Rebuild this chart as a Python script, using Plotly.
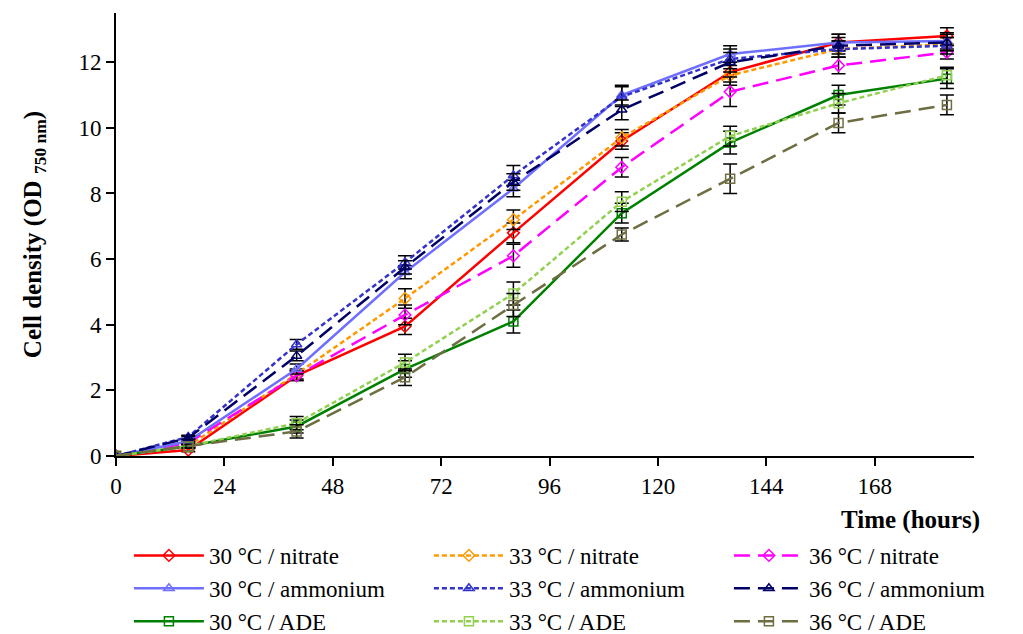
import plotly.graph_objects as go

time_h = [0, 16, 40, 64, 88, 112, 136, 160, 184]

series_names = [
    "30 °C / nitrate", "33 °C / nitrate", "36 °C / nitrate",
    "30 °C / ammonium", "33 °C / ammonium", "36 °C / ammonium",
    "30 °C / ADE", "33 °C / ADE", "36 °C / ADE",
]

n30_nitrate = [0, 0.18, 2.45, 3.95, 6.8, 9.6, 11.7, 12.6, 12.8]
n33_nitrate = [0, 0.3, 2.5, 4.8, 7.2, 9.7, 11.6, 12.4, 12.55]
n36_nitrate = [0, 0.4, 2.45, 4.3, 6.1, 8.8, 11.1, 11.9, 12.3]
a30_ammonium = [0, 0.45, 2.65, 5.6, 8.15, 11.0, 12.25, 12.6, 12.65]
a33_ammonium = [0, 0.58, 3.4, 5.9, 8.55, 10.95, 12.1, 12.4, 12.5]
a36_ammonium = [0, 0.55, 3.05, 5.75, 8.35, 10.55, 12.0, 12.5, 12.6]
d30_ade = [0, 0.3, 0.9, 2.65, 4.1, 7.4, 9.55, 11.0, 11.5]
d33_ade = [0, 0.3, 1.0, 2.85, 4.95, 7.75, 9.75, 10.75, 11.6]
d36_ade = [0, 0.3, 0.75, 2.4, 4.6, 6.75, 8.45, 10.15, 10.7]

e30_nitrate = [0, 0.05, 0.15, 0.25, 0.3, 0.25, 0.3, 0.25, 0.25]
e33_nitrate = [0, 0.05, 0.15, 0.3, 0.3, 0.25, 0.3, 0.25, 0.2]
e36_nitrate = [0, 0.05, 0.15, 0.3, 0.35, 0.3, 0.45, 0.25, 0.2]
e30_ammonium = [0, 0.05, 0.15, 0.2, 0.25, 0.3, 0.25, 0.25, 0.25]
e33_ammonium = [0, 0.05, 0.15, 0.2, 0.3, 0.3, 0.3, 0.25, 0.25]
e36_ammonium = [0, 0.05, 0.15, 0.2, 0.25, 0.3, 0.3, 0.25, 0.25]
e30_ade = [0, 0.05, 0.2, 0.25, 0.35, 0.3, 0.35, 0.3, 0.3]
e33_ade = [0, 0.05, 0.2, 0.25, 0.35, 0.3, 0.3, 0.3, 0.25]
e36_ade = [0, 0.05, 0.2, 0.25, 0.35, 0.2, 0.45, 0.3, 0.3]

values = [n30_nitrate, n33_nitrate, n36_nitrate,
          a30_ammonium, a33_ammonium, a36_ammonium,
          d30_ade, d33_ade, d36_ade]
errors = [e30_nitrate, e33_nitrate, e36_nitrate,
          e30_ammonium, e33_ammonium, e36_ammonium,
          e30_ade, e33_ade, e36_ade]
colors = ["#FF0000", "#FF9900", "#FF00FF",
          "#6F6FFF", "#3333CC", "#000066",
          "#008000", "#92D050", "#6E6E42"]
dashes = ["solid", "5px,3px", "16px,8px"] * 3
symbols = ["diamond-open"] * 3 + ["triangle-up-open"] * 3 + ["square-open"] * 3

fig = go.Figure()
for name, y, err, c, d, s in zip(series_names, values, errors, colors, dashes, symbols):
    fig.add_trace(go.Scatter(
        x=time_h, y=y, name=name, mode="lines+markers",
        line=dict(color=c, width=2.5, dash=d),
        marker=dict(symbol=s, size=9, color=c, line=dict(width=1.5, color=c)),
        error_y=dict(type="data", array=err, visible=True, color="black",
                     thickness=1.5, width=7),
    ))

font_family = "Liberation Serif, DejaVu Serif, serif"

fig.update_layout(
    width=1023, height=634,
    margin=dict(l=116, r=49, t=13, b=178, autoexpand=False),
    plot_bgcolor="white", paper_bgcolor="white",
    font=dict(family=font_family, size=23, color="black"),
    showlegend=True,
    legend=dict(orientation="h", xref="paper", yref="paper",
                x=-0.0001, xanchor="left", y=-0.176, yanchor="top",
                entrywidth=202, entrywidthmode="pixels", indentation=13,
                font=dict(size=23, family=font_family), tracegroupgap=0,
                itemwidth=70, bgcolor="rgba(0,0,0,0)"),
    xaxis=dict(range=[0, 190], tickmode="linear", tick0=0, dtick=24,
               showline=True, linecolor="black", linewidth=2,
               ticks="outside", ticklen=8, tickwidth=2, tickcolor="black",
               showgrid=False, zeroline=False,
               tickfont=dict(size=23, family=font_family)),
    yaxis=dict(range=[0, 13.5], tickmode="linear", tick0=0, dtick=2,
               showline=True, linecolor="black", linewidth=2,
               ticks="outside", ticklen=8, tickwidth=2, tickcolor="black",
               showgrid=False, zeroline=False,
               tickfont=dict(size=23, family=font_family),
               title=dict(text="<b>Cell density (OD <sub>750 nm</sub>)</b>",
                          font=dict(size=25, family=font_family), standoff=30)),
)

fig.add_annotation(text="<b>Time (hours)</b>", xref="paper", yref="paper",
                   x=1.009, y=-0.145, xanchor="right", yanchor="middle",
                   showarrow=False, font=dict(size=25, family=font_family))

fig.write_html("out.html", config={"displayModeBar": False},
               post_script="document.body.style.margin='0';document.body.style.overflow='hidden';")
